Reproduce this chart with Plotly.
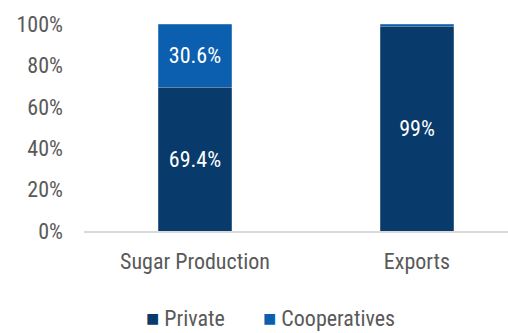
import plotly.graph_objects as go

# Share of sugar production and exports by ownership type
categories = ["Sugar Production", "Exports"]
private = [69.4, 99.0]
cooperatives = [30.6, 1.0]
private_labels = ["69.4%", "99%"]
coop_labels = ["30.6%", ""]
y_ticks = [0, 20, 40, 60, 80, 100]
y_tick_labels = ["0%", "20%", "40%", "60%", "80%", "100%"]
series_names = ["Private", "Cooperatives"]
series_colors = ["#083A6B", "#0B5FAE"]

FONT = "Liberation Sans Narrow, Roboto Condensed, Roboto, sans-serif"
GREY = "#595959"
SIZE = 22

fig = go.Figure()
for name, vals, labels, color in zip(series_names, [private, cooperatives],
                                     [private_labels, coop_labels], series_colors):
    fig.add_trace(go.Bar(
        name=name, x=categories, y=vals,
        text=labels, textposition="inside", insidetextanchor="middle",
        textfont=dict(color="white", size=SIZE, family=FONT),
        marker=dict(color=color, line=dict(color="rgba(255,255,255,0.35)", width=0.6)),
        showlegend=False,
    ))

# Legend row drawn as text: coloured square + series name
legend_x = [0.142, 0.418]
for name, color, lx in zip(series_names, series_colors, legend_x):
    fig.add_annotation(
        xref="paper", yref="paper", x=lx, y=-0.425, xanchor="left", yanchor="middle",
        text=f"<span style='color:{color}'>■</span> {name}",
        showarrow=False, font=dict(size=SIZE, color=GREY, family=FONT),
    )

fig.update_layout(
    barmode="stack",
    bargap=0.667,
    width=508, height=333,
    margin=dict(l=84, r=0, t=24, b=102),
    paper_bgcolor="white", plot_bgcolor="white",
    font=dict(family=FONT, color=GREY, size=SIZE),
    uniformtext=dict(mode="show", minsize=10),
    showlegend=False,
    xaxis=dict(
        range=[-0.5, 1.41], showline=True, linecolor="#D9D9D9", linewidth=1.5,
        ticks="", showgrid=False, tickfont=dict(size=SIZE, color=GREY),
        ticklabelstandoff=10,
    ),
    yaxis=dict(
        range=[0, 100], tickvals=y_ticks, ticktext=y_tick_labels,
        showgrid=False, zeroline=False, showline=False, ticks="",
        ticklabelstandoff=20, tickfont=dict(size=SIZE, color=GREY),
    ),
)

fig.write_html("out.html")
